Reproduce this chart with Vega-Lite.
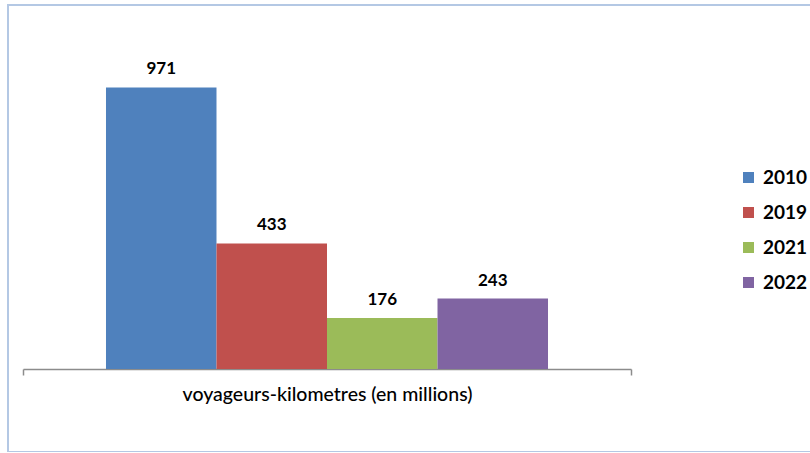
{
  "$schema": "https://vega.github.io/schema/vega-lite/v6.json",
  "autosize": "none",
  "padding": {"left": 8, "top": 5, "right": 0, "bottom": 0},
  "width": 810,
  "height": 447,
  "config": {
    "view": {"stroke": "#b4c8e4", "strokeWidth": 2},
    "font": "Lato"
  },
  "data": {
    "values": [
      {"categorie": "voyageurs-kilometres (en millions)", "annee": "2010", "valeur": 971},
      {"categorie": "voyageurs-kilometres (en millions)", "annee": "2019", "valeur": 433},
      {"categorie": "voyageurs-kilometres (en millions)", "annee": "2021", "valeur": 176},
      {"categorie": "voyageurs-kilometres (en millions)", "annee": "2022", "valeur": 243}
    ]
  },
  "encoding": {
    "x": {
      "field": "categorie",
      "type": "nominal",
      "title": null,
      "scale": {"range": [15, 623], "paddingInner": 0, "paddingOuter": 0},
      "axis": {
        "offset": -83,
        "tickBand": "extent",
        "domainColor": "#8c8c8c",
        "domainWidth": 1.5,
        "tickColor": "#8c8c8c",
        "tickWidth": 1.5,
        "tickSize": 6,
        "labelAngle": 0,
        "labelLimit": 0,
        "labelFont": "Lato",
        "labelFontSize": 19.5,
        "labelFontWeight": 500,
        "labelColor": "#000000",
        "labelPadding": 10
      }
    },
    "xOffset": {
      "field": "annee",
      "type": "nominal",
      "scale": {"paddingInner": 0, "paddingOuter": 0.751}
    },
    "y": {
      "field": "valeur",
      "type": "quantitative",
      "scale": {"domain": [0, 1200], "range": [364, 16]},
      "axis": null
    }
  },
  "layer": [
    {
      "mark": {"type": "bar"},
      "encoding": {
        "color": {
          "field": "annee",
          "type": "nominal",
          "scale": {"domain": ["2010", "2019", "2021", "2022"], "range": ["#4F81BD", "#C0504D", "#9BBB59", "#8064A2"]},
          "legend": {
            "title": null,
            "orient": "none",
            "legendX": 731,
            "legendY": 163,
            "symbolType": "square",
            "symbolSize": 121,
            "symbolStrokeWidth": 0,
            "labelFont": "Lato",
            "labelFontSize": 19,
            "labelFontWeight": "bold",
            "labelColor": "#000000",
            "rowPadding": 15,
            "labelOffset": 5
          }
        }
      }
    },
    {
      "mark": {"type": "text", "baseline": "bottom", "dy": -9, "font": "Lato", "fontSize": 17, "fontWeight": "bold", "color": "#000000"},
      "encoding": {"text": {"field": "valeur", "type": "quantitative"}}
    }
  ]
}
